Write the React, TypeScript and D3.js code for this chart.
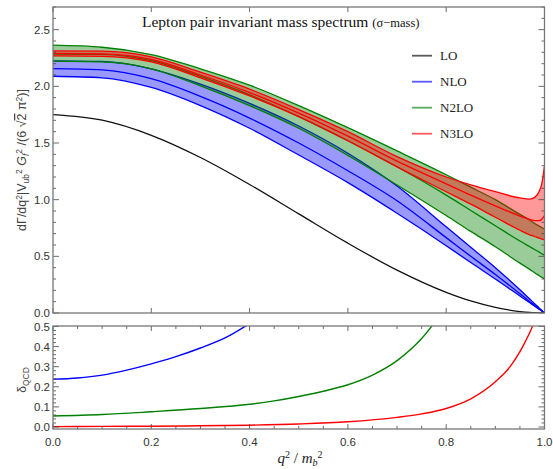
import React from "react";
import * as d3 from "d3";

// q^2/m_b^2 grid for the spectrum curves
const q = [0, 0.1, 0.2, 0.3, 0.4, 0.5, 0.6, 0.7, 0.8, 0.85, 0.9, 0.95, 0.97, 0.98, 0.99, 0.995, 1];

const lo = [1.75, 1.701, 1.568, 1.372, 1.134, 0.875, 0.616, 0.378, 0.182, 0.106, 0.049, 0.013, 0.0046, 0.0021, 0.0005, 0.0001, 0];

const nloUp = [2.225, 2.22, 2.155, 2.02, 1.85, 1.65, 1.41, 1.12, 0.76, 0.58, 0.4, 0.205, 0.123, 0.082, 0.041, 0.02, 0];
const nloMid = [2.156, 2.145, 2.067, 1.911, 1.72, 1.5, 1.255, 0.99, 0.665, 0.5, 0.34, 0.17, 0.1, 0.067, 0.033, 0.017, 0];
const nloDn = [2.089, 2.075, 1.99, 1.83, 1.63, 1.394, 1.15, 0.88, 0.594, 0.445, 0.3, 0.15, 0.09, 0.06, 0.03, 0.015, 0];

const n2Up = [2.363, 2.345, 2.28, 2.155, 2.01, 1.83, 1.635, 1.43, 1.22, 1.11, 1.0, 0.87, 0.82, 0.79, 0.765, 0.752, 0.74];
const n2Mid = [2.285, 2.282, 2.226, 2.087, 1.925, 1.733, 1.52, 1.29, 1.04, 0.905, 0.77, 0.635, 0.585, 0.56, 0.535, 0.522, 0.51];
const n2Dn = [2.222, 2.215, 2.155, 2.005, 1.83, 1.63, 1.39, 1.13, 0.86, 0.72, 0.585, 0.44, 0.385, 0.355, 0.327, 0.313, 0.3];

const n3Up = [2.312, 2.31, 2.26, 2.125, 1.975, 1.795, 1.6, 1.38, 1.2, 1.13, 1.07, 1.015, 1.005, 1.02, 1.08, 1.15, 1.3];
const n3Mid = [2.29, 2.287, 2.237, 2.1, 1.945, 1.763, 1.56, 1.34, 1.14, 1.04, 0.945, 0.855, 0.825, 0.815, 0.815, 0.83, 0.86];
const n3Dn = [2.268, 2.265, 2.215, 2.075, 1.915, 1.733, 1.52, 1.29, 1.07, 0.96, 0.845, 0.73, 0.69, 0.675, 0.66, 0.652, 0.645];

// delta_QCD (lower panel)
const qD1 = [0, 0.05, 0.1, 0.15, 0.2, 0.25, 0.3, 0.35, 0.4, 0.45];
const dNLO = [0.238, 0.244, 0.258, 0.283, 0.314, 0.35, 0.393, 0.443, 0.515, 0.6];
const qD2 = [0, 0.1, 0.2, 0.3, 0.4, 0.45, 0.5, 0.55, 0.6, 0.65, 0.7, 0.75, 0.8];
const dN2LO = [0.055, 0.062, 0.076, 0.092, 0.113, 0.13, 0.152, 0.178, 0.21, 0.258, 0.33, 0.44, 0.6];
const qD3 = [0, 0.1, 0.2, 0.3, 0.4, 0.5, 0.6, 0.7, 0.75, 0.8, 0.85, 0.9, 0.93, 0.95, 0.96, 0.97, 0.98, 0.99];
const dN3LO = [0.002, 0.003, 0.004, 0.006, 0.009, 0.015, 0.026, 0.048, 0.065, 0.092, 0.14, 0.225, 0.3, 0.375, 0.42, 0.47, 0.53, 0.62];

const xTicks = [0, 0.2, 0.4, 0.6, 0.8, 1.0];
const xTickLabels = ["0.0", "0.2", "0.4", "0.6", "0.8", "1.0"];
const yTicksTop = [0, 0.5, 1, 1.5, 2, 2.5];
const yTickLabelsTop = ["0.0", "0.5", "1.0", "1.5", "2.0", "2.5"];
const yTicksBot = [0, 0.1, 0.2, 0.3, 0.4, 0.5];
const yTickLabelsBot = ["0.0", "0.1", "0.2", "0.3", "0.4", "0.5"];

const legendLabels = ["LO", "NLO", "N2LO", "N3LO"];
const colors = ["#000000", "#0000ff", "#008000", "#ff0000"];

const L = 53, R = 544.5;
const T1 = 7, B1 = 313;
const T2 = 326, B2 = 429;

const frame = "#777";
const tickCol = "#444";
const sans = "'Liberation Sans', Arial, sans-serif";
const serif = "'Liberation Serif', 'Times New Roman', serif";

export default function App() {
  const x = d3.scaleLinear().domain([0, 1]).range([L, R]);
  const yT = d3.scaleLinear().domain([0, 2.7]).range([B1, T1]);
  const yB = d3.scaleLinear().domain([-0.01, 0.5]).range([B2, 326.5]);

  const lineT = (ys: number[]) =>
    d3.line<number>().x((_, i) => x(q[i])).y((d) => yT(d)).curve(d3.curveMonotoneX)(ys) || "";
  const areaT = (dn: number[], up: number[]) =>
    d3.area<number>().x((d) => x(d)).y0((_, i) => yT(dn[i])).y1((_, i) => yT(up[i])).curve(d3.curveMonotoneX)(q) || "";
  const lineB = (xs: number[], ys: number[]) =>
    d3.line<number>().x((_, i) => x(xs[i])).y((d) => yB(d)).curve(d3.curveMonotoneX)(ys) || "";

  const bands = [
    { up: nloUp, mid: nloMid, dn: nloDn, c: colors[1] },
    { up: n2Up, mid: n2Mid, dn: n2Dn, c: colors[2] },
    { up: n3Up, mid: n3Mid, dn: n3Dn, c: colors[3] },
  ];

  const minorTopY = d3.range(0, 2.71, 0.1).filter((v) => Math.abs(v * 2 - Math.round(v * 2)) > 1e-6);
  const minorBotY = d3.range(0, 0.501, 0.02);
  const minorBotX = d3.range(0, 1.001, 0.05);

  return (
    <svg width={553} height={469} style={{ position: "absolute", left: 0, top: 0, background: "#fff" }}>
      <defs>
        <clipPath id="clipT"><rect x={L} y={T1} width={R - L} height={B1 - T1} /></clipPath>
        <clipPath id="clipB"><rect x={L} y={T2} width={R - L} height={B2 - T2} /></clipPath>
      </defs>

      {/* upper panel */}
      <g clipPath="url(#clipT)">
        {bands.map((b, k) => (
          <g key={k}>
            <path d={areaT(b.dn, b.up)} fill={b.c} fillOpacity={0.4} stroke="none" />
            {[b.up, b.mid, b.dn].map((s, j) => (
              <path key={j} d={lineT(s)} fill="none" stroke={b.c} strokeWidth={1.3} />
            ))}
          </g>
        ))}
        <path d={lineT(lo)} fill="none" stroke="#111" strokeWidth={1.3} />
      </g>

      {/* lower panel */}
      <g clipPath="url(#clipB)">
        <path d={lineB(qD1, dNLO)} fill="none" stroke={colors[1]} strokeWidth={1.4} />
        <path d={lineB(qD2, dN2LO)} fill="none" stroke={colors[2]} strokeWidth={1.4} />
        <path d={lineB(qD3, dN3LO)} fill="none" stroke={colors[3]} strokeWidth={1.4} />
      </g>

      {/* ticks upper */}
      <g stroke={tickCol} strokeWidth={0.8}>
        {xTicks.map((t) => (
          <g key={"xt" + t}>
            <line x1={x(t)} x2={x(t)} y1={B1} y2={B1 - 5} />
            <line x1={x(t)} x2={x(t)} y1={T1} y2={T1 + 5} />
          </g>
        ))}
        {yTicksTop.map((t) => (
          <g key={"yt" + t}>
            <line x1={L} x2={L + 6} y1={yT(t)} y2={yT(t)} />
            <line x1={R} x2={R - 6} y1={yT(t)} y2={yT(t)} />
          </g>
        ))}
        {minorTopY.map((t) => (
          <g key={"ym" + t}>
            <line x1={L} x2={L + 3} y1={yT(t)} y2={yT(t)} />
            <line x1={R} x2={R - 3} y1={yT(t)} y2={yT(t)} />
          </g>
        ))}
        {/* ticks lower */}
        {minorBotX.map((t, i) => {
          const len = i % 4 === 0 ? 5 : 3;
          return (
            <g key={"bx" + i}>
              <line x1={x(t)} x2={x(t)} y1={B2} y2={B2 - len} />
              <line x1={x(t)} x2={x(t)} y1={T2} y2={T2 + len} />
            </g>
          );
        })}
        {minorBotY.map((t, i) => {
          const len = i % 5 === 0 ? 6 : 3;
          return (
            <g key={"by" + i}>
              <line x1={L} x2={L + len} y1={yB(t)} y2={yB(t)} />
              <line x1={R} x2={R - len} y1={yB(t)} y2={yB(t)} />
            </g>
          );
        })}
      </g>

      <rect x={L} y={T1} width={R - L} height={B1 - T1} fill="none" stroke={frame} strokeWidth={1.3} />
      <rect x={L} y={T2} width={R - L} height={B2 - T2} fill="none" stroke={frame} strokeWidth={1.3} />

      {/* tick labels */}
      <g fontFamily={sans} fontSize={11.5} fill="#333">
        {yTicksTop.map((t, i) => (
          <text key={"ytl" + i} x={L - 3} y={yT(t)} dy="0.35em" textAnchor="end">{yTickLabelsTop[i]}</text>
        ))}
        {yTicksBot.map((t, i) => (
          <text key={"ybl" + i} x={L - 3} y={yB(t)} dy="0.35em" textAnchor="end">{yTickLabelsBot[i]}</text>
        ))}
        {xTicks.map((t, i) => (
          <text key={"xl" + i} x={x(t)} y={446} textAnchor="middle">{xTickLabels[i]}</text>
        ))}
      </g>

      {/* title */}
      <text x={142} y={27} fontFamily={serif} fontSize={15.5} fill="#111">
        Lepton pair invariant mass spectrum <tspan fontSize={12.5}>(σ−mass)</tspan>
      </text>

      {/* legend */}
      <g fontFamily={serif} fontSize={13} fill="#222">
        {legendLabels.map((lab, i) => {
          const yy = 55.7 + i * 26;
          return (
            <g key={lab}>
              <line x1={412} x2={432} y1={yy} y2={yy} stroke={colors[i]} strokeOpacity={0.65} strokeWidth={1.8} />
              <text x={440} y={yy} dy="0.35em">{lab}</text>
            </g>
          );
        })}
      </g>

      {/* axis labels */}
      <text transform="translate(26,160) rotate(-90)" textAnchor="middle" fontFamily={sans} fontSize={12.5} fill="#444">
        dΓ/dq<tspan dy={-4} fontSize={8.5}>2</tspan>
        <tspan dy={4}>|V</tspan>
        <tspan dy={3} fontSize={8.5}>ub</tspan>
        <tspan dy={-7} fontSize={8.5}>2</tspan>
        <tspan dy={4}> </tspan>
        <tspan fontStyle="italic">G</tspan>
        <tspan dy={3} fontSize={8.5} fontStyle="italic">f</tspan>
        <tspan dy={-7} fontSize={8.5}>2</tspan>
        <tspan dy={4}> /(6 √</tspan>
        <tspan textDecoration="overline">2</tspan>
        <tspan> π</tspan>
        <tspan dy={-4} fontSize={8.5}>2</tspan>
        <tspan dy={4}>)]</tspan>
      </text>

      <text transform="translate(26,380) rotate(-90)" textAnchor="middle" fontFamily={sans} fontSize={12} fill="#444">
        δ<tspan dy={3} fontSize={8.5}>QCD</tspan>
      </text>

      <text x={300} y={463} textAnchor="middle" fontFamily={serif} fontSize={15} fill="#222">
        <tspan fontStyle="italic">q</tspan>
        <tspan dy={-5} fontSize={10}>2</tspan>
        <tspan dy={5}> / </tspan>
        <tspan fontStyle="italic">m</tspan>
        <tspan dy={3} fontSize={10} fontStyle="italic">b</tspan>
        <tspan dy={-8} fontSize={10}>2</tspan>
      </text>
    </svg>
  );
}
